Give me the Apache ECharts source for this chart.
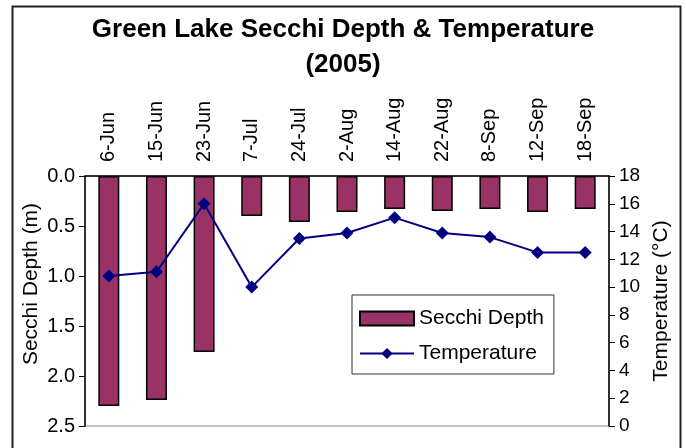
<!DOCTYPE html>
<html>
<head>
<meta charset="utf-8">
<script src="https://cdn.jsdelivr.net/npm/echarts@6/dist/echarts.min.js"></script>
<style>
    html, body { margin: 0; padding: 0; background: #fff; }
    #chart { width: 686px; height: 448px; }
</style>
</head>
<body>
<div id="chart"></div>
<script>
// sample dates, 2005
var dates = ['6-Jun', '15-Jun', '23-Jun', '7-Jul', '24-Jul', '2-Aug', '14-Aug', '22-Aug', '8-Sep', '12-Sep', '18-Sep'];
// secchi depth in metres
var secchiDepth = [2.30, 2.24, 1.76, 0.40, 0.46, 0.36, 0.33, 0.35, 0.33, 0.36, 0.33];
// water temperature, deg C
var temperature = [10.8, 11.1, 16.0, 10.0, 13.5, 13.9, 15.0, 13.9, 13.6, 12.5, 12.5];

var font = 'Liberation Sans, Arial, sans-serif';

var myChart = echarts.init(document.getElementById('chart'));

var option = {
    backgroundColor: '#fff',
    animation: false,
    title: {
        text: 'Green Lake Secchi Depth & Temperature\n(2005)',
        left: 'center',
        top: 7,
        textStyle: {
            fontFamily: font,
            fontSize: 26,
            fontWeight: 'bold',
            color: '#000',
            lineHeight: 35
        }
    },
    graphic: [{
        type: 'rect',
        shape: { x: 12.5, y: 6.5, width: 668, height: 460 },
        style: { fill: 'none', stroke: '#222', lineWidth: 2 },
        z: 0
    }],
    legend: {
        orient: 'vertical',
        left: 352,
        top: 295,
        width: 208,
        padding: [13, 10, 10, 7],
        itemGap: 14,
        itemWidth: 54,
        itemHeight: 14,
        backgroundColor: '#fff',
        borderColor: '#333',
        borderWidth: 1,
        textStyle: { fontFamily: font, fontSize: 21, color: '#000' },
        data: [{ name: 'Secchi Depth', icon: 'rect' }, 'Temperature']
    },
    grid: {
        left: 85,
        right: 77,
        top: 176,
        bottom: 22,
        show: true,
        borderColor: '#888',
        borderWidth: 1
    },
    xAxis: [{
        type: 'category',
        position: 'top',
        data: dates,
        boundaryGap: true,
        axisLine: { onZero: false, lineStyle: { color: '#000', width: 1.5 } },
        axisTick: { length: 6, lineStyle: { color: '#000' } },
        axisLabel: {
            rotate: -90,
            margin: 14,
            fontFamily: font,
            fontSize: 20,
            color: '#000'
        }
    }],
    yAxis: [{
        type: 'value',
        name: 'Secchi Depth (m)',
        nameLocation: 'middle',
        nameRotate: 90,
        nameGap: 43,
        nameMoveOverlap: false,
        nameTextStyle: { fontFamily: font, fontSize: 21, color: '#000', padding: [0, 0, 0, 34] },
        inverse: true,
        min: 0,
        max: 2.5,
        interval: 0.5,
        splitLine: { show: false },
        axisLine: { show: true, lineStyle: { color: '#000', width: 1.5 } },
        axisTick: { show: true, length: 6, lineStyle: { color: '#000' } },
        axisLabel: {
            fontFamily: font,
            fontSize: 20,
            color: '#000',
            margin: 10,
            formatter: function (v) { return v.toFixed(1); }
        }
    }, {
        type: 'value',
        name: 'Temperature (°C)',
        nameLocation: 'middle',
        nameRotate: 90,
        nameGap: 40,
        nameTextStyle: { fontFamily: font, fontSize: 21, color: '#000' },
        position: 'right',
        min: 0,
        max: 18,
        interval: 2,
        splitLine: { show: false },
        axisLine: { show: true, lineStyle: { color: '#000', width: 1.5 } },
        axisTick: { show: true, length: 6, lineStyle: { color: '#000' } },
        axisLabel: { fontFamily: font, fontSize: 19, color: '#000', margin: 10 }
    }],
    series: [{
        name: 'Secchi Depth',
        type: 'bar',
        yAxisIndex: 0,
        barWidth: 21,
        itemStyle: {
            color: '#993366',
            borderColor: '#000',
            borderWidth: 1.5
        },
        data: secchiDepth
    }, {
        name: 'Temperature',
        type: 'line',
        yAxisIndex: 1,
        symbol: 'diamond',
        symbolSize: 13,
        lineStyle: { color: '#000080', width: 2 },
        itemStyle: { color: '#000080' },
        data: temperature
    }]
};

myChart.setOption(option);
</script>
</body>
</html>
